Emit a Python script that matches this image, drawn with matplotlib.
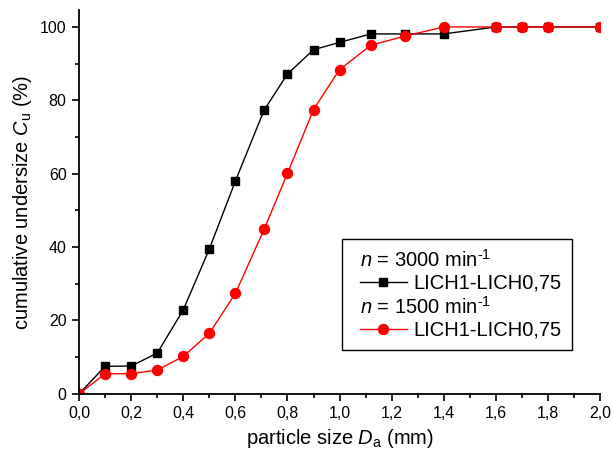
import matplotlib.pyplot as plt
from matplotlib.lines import Line2D
from matplotlib.legend_handler import HandlerLine2D
from matplotlib.ticker import MultipleLocator, FuncFormatter

plt.rcParams["font.family"] = "Liberation Sans"
plt.rcParams["mathtext.fontset"] = "custom"
plt.rcParams["mathtext.rm"] = "Liberation Sans"
plt.rcParams["mathtext.it"] = "Liberation Sans:italic"

# particle size classes (mm)
size_mm = [0.0, 0.1, 0.2, 0.3, 0.4, 0.5, 0.6, 0.71, 0.8, 0.9, 1.0, 1.12, 1.25, 1.4, 1.6, 1.7, 1.8, 2.0]
# cumulative undersize (%)
cu_3000 = [0.0, 7.5, 7.6, 11.1, 22.9, 39.5, 58.0, 77.3, 87.2, 93.8, 95.8, 98.1, 98.1, 98.1, 100.0, 100.0, 100.0, 100.0]
cu_1500 = [0.0, 5.5, 5.5, 6.5, 10.2, 16.5, 27.4, 44.8, 60.1, 77.5, 88.4, 95.0, 97.5, 100.0, 100.0, 100.0, 100.0, 100.0]

series_label = "LICH1-LICH0,75"
header_3000 = r"$n$ = 3000 min$^{\text{-1}}$"
header_1500 = r"$n$ = 1500 min$^{\text{-1}}$"

DPI = 100
fig = plt.figure(figsize=(6.13, 4.58), dpi=DPI)
ax = fig.add_axes([0.129, 0.14, 0.850, 0.838])

ax.plot(size_mm, cu_3000, color="black", lw=1.0, marker="s", ms=6.2)
ax.plot(size_mm, cu_1500, color="red", lw=1.0, marker="o", ms=7.2)

ax.set_xlim(0, 2.0)
ax.set_ylim(0, 104.6)
ax.xaxis.set_major_locator(MultipleLocator(0.2))
ax.xaxis.set_minor_locator(MultipleLocator(0.1))
ax.yaxis.set_major_locator(MultipleLocator(20))
ax.yaxis.set_minor_locator(MultipleLocator(10))
ax.xaxis.set_major_formatter(FuncFormatter(lambda v, p: f"{v:.1f}".replace(".", ",")))

for side in ["top", "right"]:
    ax.spines[side].set_visible(False)
for side in ["left", "bottom"]:
    ax.spines[side].set_linewidth(1.3)
ax.tick_params(which="major", length=5, width=1.2, labelsize=11.5, pad=4)
ax.tick_params(which="minor", length=3, width=1.2)

ax.set_xlabel(r"particle size $D_\mathrm{a}$ (mm)", fontsize=14.5, labelpad=4)
ax.set_ylabel(r"cumulative undersize $C_\mathrm{u}$ (%)", fontsize=14.5, labelpad=4)

# legend: header rows without handles, handles indented by xpad
blank = Line2D([], [], color="none")
h1 = Line2D([], [], color="black", lw=1.0, marker="s", ms=6.2)
h2 = Line2D([], [], color="red", lw=1.0, marker="o", ms=7.2)
leg_fs = 14.5
hl, htp, xpad = 2.7, 0.35, 0.4
leg = ax.legend([blank, h1, blank, h2],
                [header_3000, series_label, header_1500, series_label],
                handler_map={Line2D: HandlerLine2D(xpad=xpad)},
                loc="upper left", bbox_to_anchor=(0.505, 0.404),
                borderaxespad=0, fontsize=leg_fs, frameon=True, fancybox=False,
                edgecolor="black", framealpha=1, handlelength=hl,
                handletextpad=htp, labelspacing=0.15, borderpad=0.5)
leg.get_frame().set_linewidth(1.0)
shift = (hl + htp - xpad) * leg_fs * DPI / 72
for i in (0, 2):
    leg.get_texts()[i].set_position((-shift, 0))

fig.savefig("out.png", dpi=DPI)
